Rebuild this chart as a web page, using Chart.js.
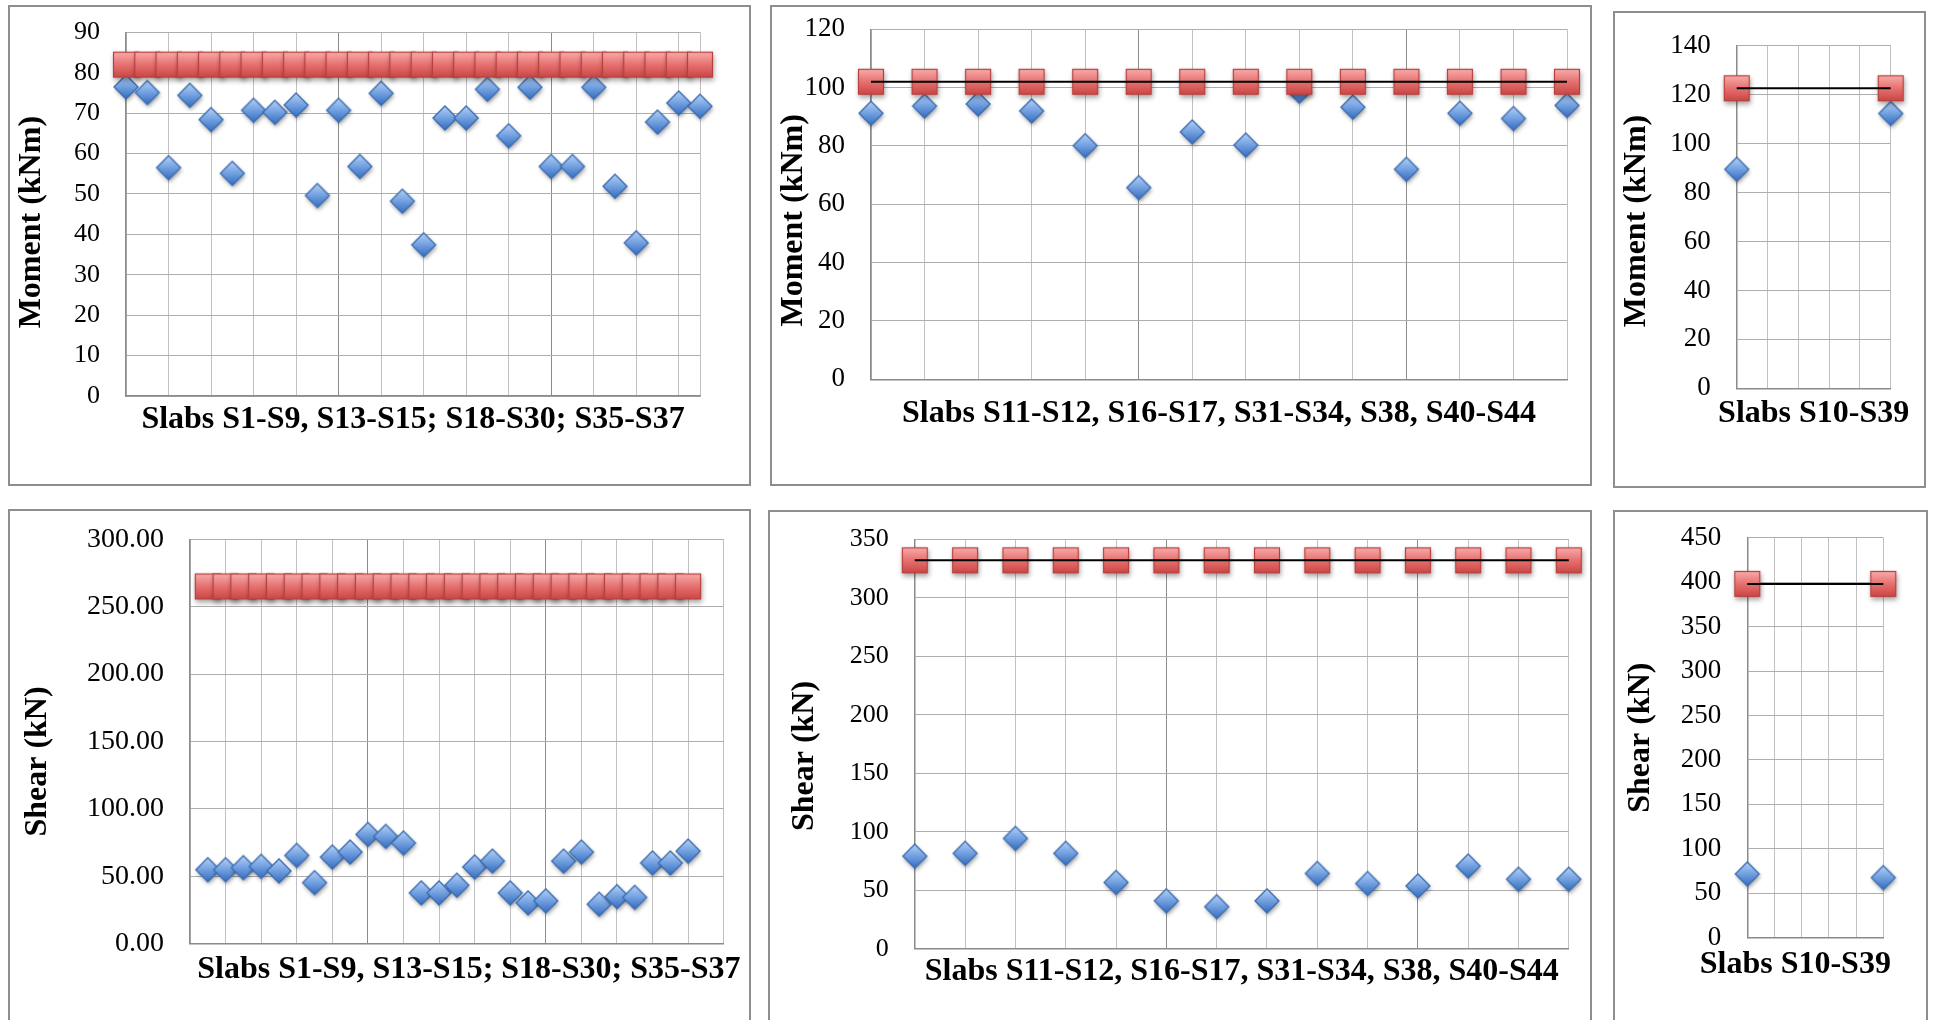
<!DOCTYPE html>
<html>
<head>
<meta charset="utf-8">
<script src="https://cdn.jsdelivr.net/npm/chart.js@4.4.1/dist/chart.umd.min.js"></script>
<style>
html,body{margin:0;padding:0;background:#fff;width:1935px;height:1020px;overflow:hidden;}
.panel{position:absolute;border:2px solid #8e8e8e;box-sizing:border-box;background:#fff;}
.panel canvas{position:absolute;left:0;top:0;}
</style>
</head>
<body>
<script>
// ---------------- DATA ----------------
const slabsA = ['S1','S2','S3','S4','S5','S6','S7','S8','S9','S13','S14','S15','S18','S19','S20','S21','S22','S23','S24','S25','S26','S27','S28','S29','S30','S35','S36','S37'];
const slabsB = ['S11','S12','S16','S17','S31','S32','S33','S34','S38','S40','S41','S42','S43','S44'];
const slabsC = ['S10','S39'];

const momentA   = [76.5,75.1,56.5,74.4,68.4,55.1,70.7,70.2,72.0,49.6,70.7,56.8,74.9,48.2,37.4,68.8,68.8,75.9,64.4,76.4,56.8,56.8,76.4,51.9,37.9,67.8,72.5,71.7];
const momentCapA = [82,82,82,82,82,82,82,82,82,82,82,82,82,82,82,82,82,82,82,82,82,82,82,82,82,82,82,82];
const momentB   = [91.2,93.7,94.4,92.0,80.1,65.7,84.8,80.3,98.8,93.3,72.0,91.2,89.4,93.9];
const momentCapB = [102,102,102,102,102,102,102,102,102,102,102,102,102,102];
const momentC   = [89.5,112.3];
const momentCapC = [122.6,122.6];

const shearA    = [54.9,54.9,56.4,57.4,54.0,65.5,45.3,64.3,68.0,81.1,79.6,74.7,37.7,37.7,43.4,56.9,61.3,37.7,30.3,31.8,61.3,68.0,29.3,34.9,34.4,59.9,59.9,68.7];
const shearCapA = [265,265,265,265,265,265,265,265,265,265,265,265,265,265,265,265,265,265,265,265,265,265,265,265,265,265,265,265];
const shearB    = [79.1,81.5,94.3,81.5,56.6,40.9,35.9,40.9,64.3,55.7,53.7,70.7,59.4,59.4];
const shearCapB = [332,332,332,332,332,332,332,332,332,332,332,332,332,332];
const shearC    = [71.7,67.6];
const shearCapC = [398,398];

// gridline (tick) positions on the x axes
const xGridA1 = [0,2,4,6,8,10,12,14,16,18,20,22,24,26,27];
const xGridA2 = [0,2,4,6,8,10,12,14,16,18,20,22,24,26,28,30];
const xGridB  = [0,1,2,3,4,5,6,7,8,9,10,11,12,13];
const xGridC  = [0,0.2,0.4,0.6,0.8,1];

// axis titles
const titleMoment = 'Moment (kNm)';
const titleShear  = 'Shear (kN)';
const titleSlabsA = 'Slabs S1-S9, S13-S15; S18-S30; S35-S37';
const titleSlabsB = 'Slabs S11-S12, S16-S17, S31-S34, S38, S40-S44';
const titleSlabsC = 'Slabs S10-S39';

// ---------------- STYLE ----------------
Chart.defaults.font.family = "'Liberation Serif','Times New Roman',serif";
Chart.defaults.color = '#000';

function diamondMarker(r) {
  const pad = 7, s = 2 * r + 2 * pad;
  const c = document.createElement('canvas'); c.width = s; c.height = s;
  const g = c.getContext('2d');
  const cx = s / 2, cy = s / 2;
  g.save();
  g.shadowColor = 'rgba(0,0,0,0.4)'; g.shadowBlur = 4; g.shadowOffsetX = 1; g.shadowOffsetY = 2.5;
  g.beginPath();
  g.moveTo(cx, cy - r); g.lineTo(cx + r, cy); g.lineTo(cx, cy + r); g.lineTo(cx - r, cy); g.closePath();
  const gr = g.createLinearGradient(cx, cy - r, cx, cy + r);
  gr.addColorStop(0, '#b6d1f5'); gr.addColorStop(0.45, '#78a5e3'); gr.addColorStop(1, '#356cbf');
  g.fillStyle = gr; g.fill();
  g.restore();
  g.lineWidth = 1.3; g.strokeStyle = '#3a6bb0'; g.stroke();
  return c;
}
function squareMarker(h) {
  const pad = 8, s = 2 * h + 2 * pad;
  const c = document.createElement('canvas'); c.width = s; c.height = s;
  const g = c.getContext('2d');
  const x0 = pad, y0 = pad, w = 2 * h;
  g.save();
  g.shadowColor = 'rgba(0,0,0,0.35)'; g.shadowBlur = 5; g.shadowOffsetX = 1; g.shadowOffsetY = 3;
  g.beginPath(); g.rect(x0, y0, w, w);
  const gr = g.createLinearGradient(0, y0, 0, y0 + w);
  gr.addColorStop(0, '#f8adac'); gr.addColorStop(0.5, '#e67170'); gr.addColorStop(1, '#c94543');
  g.fillStyle = gr; g.fill();
  g.restore();
  g.lineWidth = 1.2; g.strokeStyle = '#b6403e'; g.strokeRect(x0 + 0.5, y0 + 0.5, w - 1, w - 1);
  return c;
}
const DIAMOND = diamondMarker(12);
const SQUARE = squareMarker(13);

// let titles run wider than the plot area (no canvas squeezing)
const noSqueeze = {
  id: 'noSqueeze',
  beforeInit(chart) {
    const ctx = chart.ctx;
    const orig = ctx.fillText;
    ctx.fillText = function (t, x, y) { return orig.call(this, t, x, y); };
  }
};

const TITLE = 32;

function panel(p) {
  const div = document.createElement('div');
  div.className = 'panel';
  Object.assign(div.style, { left: p.box.x + 'px', top: p.box.y + 'px', width: p.box.w + 'px', height: p.box.h + 'px' });
  const cv = document.createElement('canvas');
  const ox = p.box.x + 2, oy = p.box.y + 2, cw = p.box.w - 4, ch = p.box.h - 4;
  cv.width = cw; cv.height = ch; cv.style.width = cw + 'px'; cv.style.height = ch + 'px';
  div.appendChild(cv); document.body.appendChild(div);

  const padTop = p.plot.t - oy;
  const padRight = ox + cw - p.plot.r;
  const yW = p.plot.l - ox;
  const xH = p.xTitleCy - p.plot.b + TITLE / 2;
  const padBottom = oy + ch - p.plot.b - xH;
  const yTitlePad = p.yTitleCx - ox - TITLE / 2;

  const pts = (vals) => vals.map((v, i) => ({ x: i + p.xOffset, y: v }));
  const datasets = [
    { label: 'Applied', data: pts(p.applied), pointStyle: DIAMOND, pointRadius: 12, order: 3, clip: false },
    { label: 'Capacity', data: pts(p.capacity), pointStyle: SQUARE, pointRadius: 13, order: 2, clip: false }
  ];
  if (p.line) {
    datasets.push({ label: 'Capacity line', data: pts(p.capacity), showLine: true, pointRadius: 0,
      borderColor: '#000', borderWidth: 2, fill: false, order: 1, clip: false });
  }
  const dark = p.darkX || [];
  new Chart(cv, {
    type: 'scatter',
    data: { labels: p.slabs, datasets },
    options: {
      responsive: false, animation: false, devicePixelRatio: 1, events: [],
      layout: { autoPadding: false, padding: { top: padTop, right: padRight, bottom: padBottom, left: 0 } },
      plugins: { legend: { display: false }, tooltip: { enabled: false } },
      scales: {
        x: {
          type: 'linear', min: p.xMin, max: p.xMax,
          afterBuildTicks: s => { s.ticks = p.xGrid.map(v => ({ value: v })); },
          afterFit: s => { s.height = xH; s.paddingLeft = 0; s.paddingRight = 0; },
          ticks: { display: false },
          grid: { drawTicks: false, lineWidth: 1, color: c => dark.includes(c.index) ? '#8c8c8c' : '#c0c0c0' },
          border: { color: '#8a8a8a', width: 1.5 },
          title: { display: true, text: p.xTitle, color: '#000', padding: { top: 0, bottom: 0 },
                   font: { size: TITLE, weight: 'bold', lineHeight: 1 } }
        },
        y: {
          min: 0, max: p.yMax,
          afterFit: s => { s.width = yW; s.paddingTop = 0; s.paddingBottom = 0; },
          ticks: { stepSize: p.yStep, padding: 26, color: '#000', font: { size: p.tickSize },
                   callback: p.fmt || (v => v) },
          grid: { drawTicks: false, lineWidth: 1, color: '#adadad' },
          border: { color: '#8a8a8a', width: 1.5 },
          title: { display: true, text: p.yTitle, color: '#000', padding: { top: yTitlePad, bottom: 0 },
                   font: { size: TITLE, weight: 'bold', lineHeight: 1 } }
        }
      }
    },
    plugins: [noSqueeze]
  });
}

// ---------------- PANELS ----------------
panel({ box: { x: 8, y: 5, w: 743, h: 481 }, plot: { l: 126, t: 32.3, r: 700, b: 396 },
  yTitleCx: 32, xTitleCy: 420, tickSize: 26,
  slabs: slabsA, applied: momentA, capacity: momentCapA, line: false,
  xOffset: 0, xMin: 0, xMax: 27, xGrid: xGridA1, darkX: [5, 10],
  yMax: 90, yStep: 10, yTitle: titleMoment + '  ', xTitle: titleSlabsA });

panel({ box: { x: 770, y: 5, w: 822, h: 481 }, plot: { l: 871, t: 29.3, r: 1567, b: 379.3 },
  yTitleCx: 794, xTitleCy: 414, tickSize: 27,
  slabs: slabsB, applied: momentB, capacity: momentCapB, line: true,
  xOffset: 0, xMin: 0, xMax: 13, xGrid: xGridB, darkX: [5, 10],
  yMax: 120, yStep: 20, yTitle: titleMoment + '    ', xTitle: titleSlabsB });

panel({ box: { x: 1613, y: 11, w: 313, h: 477 }, plot: { l: 1736.7, t: 45.7, r: 1890.7, b: 388.3 },
  yTitleCx: 1637, xTitleCy: 414, tickSize: 27,
  slabs: slabsC, applied: momentC, capacity: momentCapC, line: true,
  xOffset: 0, xMin: 0, xMax: 1, xGrid: xGridC,
  yMax: 140, yStep: 20, yTitle: titleMoment + ' ', xTitle: titleSlabsC });

panel({ box: { x: 8, y: 509, w: 743, h: 540 }, plot: { l: 190, t: 539.3, r: 723.7, b: 943.7 },
  yTitleCx: 38, xTitleCy: 970, tickSize: 28, fmt: v => Number(v).toFixed(2),
  slabs: slabsA, applied: shearA, capacity: shearCapA, line: false,
  xOffset: 1, xMin: 0, xMax: 30, xGrid: xGridA2, darkX: [5, 10],
  yMax: 300, yStep: 50, yTitle: titleShear + '     ', xTitle: '   ' + titleSlabsA });

panel({ box: { x: 768, y: 510, w: 824, h: 540 }, plot: { l: 914.8, t: 539.3, r: 1568.8, b: 948.7 },
  yTitleCx: 805, xTitleCy: 972, tickSize: 26,
  slabs: slabsB, applied: shearB, capacity: shearCapB, line: true,
  xOffset: 0, xMin: 0, xMax: 13, xGrid: xGridB, darkX: [5, 10],
  yMax: 350, yStep: 50, yTitle: titleShear + '   ', xTitle: titleSlabsB });

panel({ box: { x: 1613, y: 510, w: 315, h: 540 }, plot: { l: 1747.3, t: 537.7, r: 1883.3, b: 937.7 },
  yTitleCx: 1641, xTitleCy: 965, tickSize: 27,
  slabs: slabsC, applied: shearC, capacity: shearCapC, line: true,
  xOffset: 0, xMin: 0, xMax: 1, xGrid: xGridC,
  yMax: 450, yStep: 50, yTitle: titleShear, xTitle: titleSlabsC + '     ' });
</script>
</body>
</html>
